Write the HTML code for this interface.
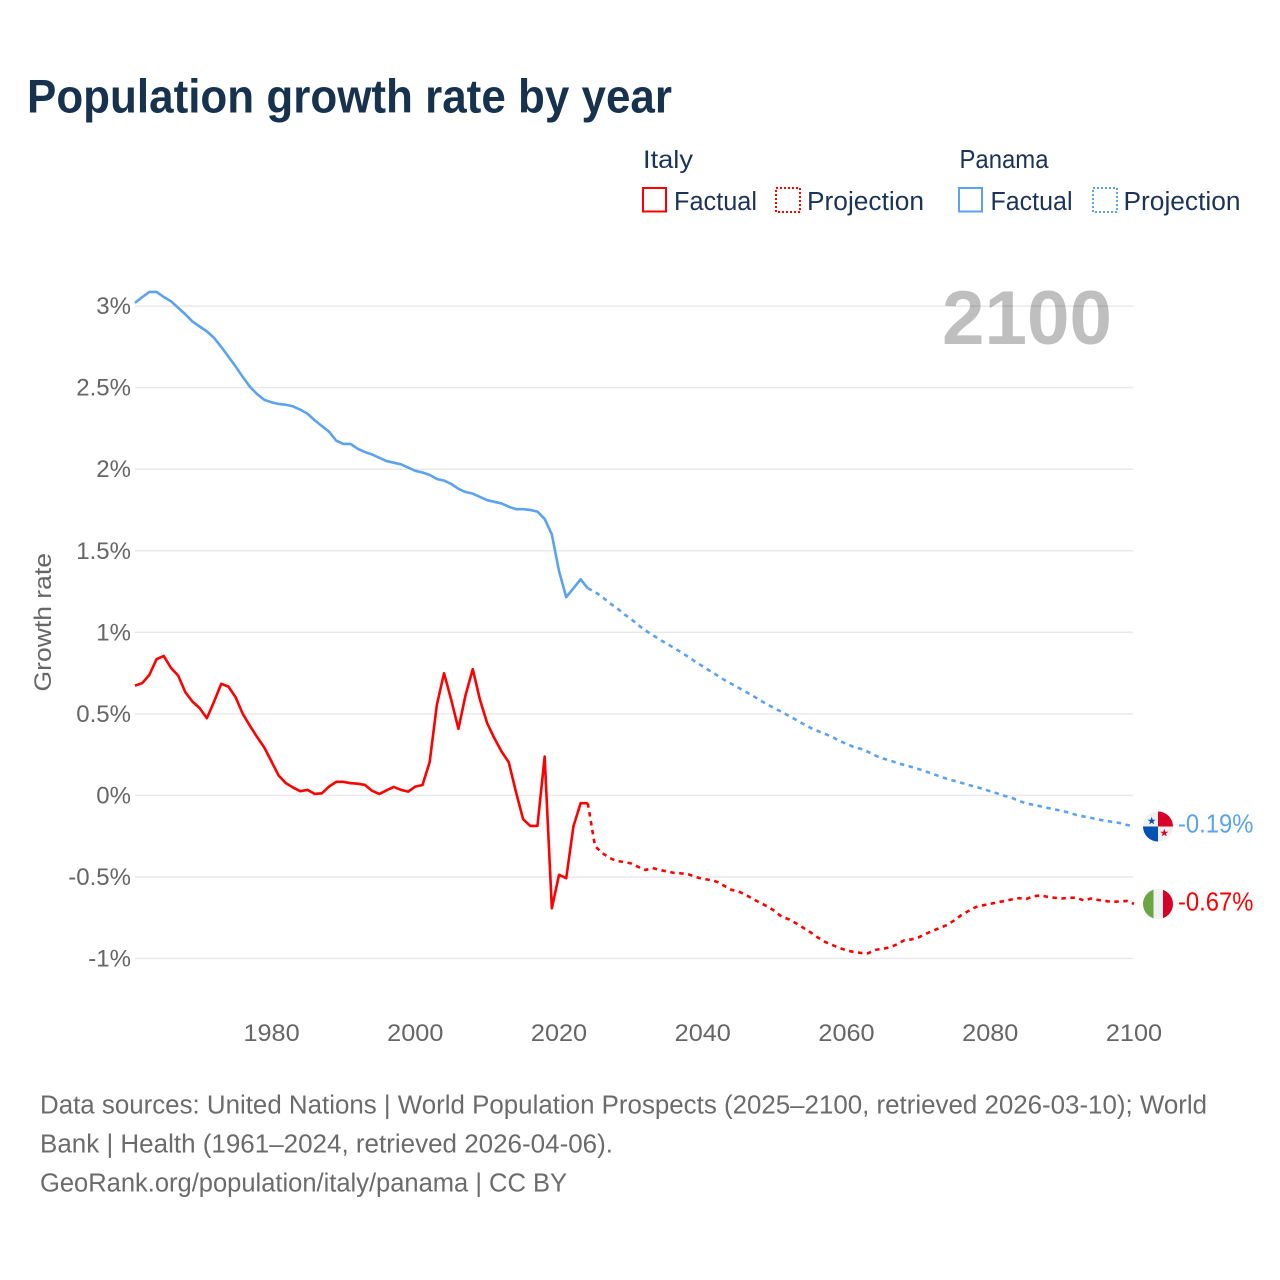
<!DOCTYPE html>
<html lang="en">
<head>
<meta charset="utf-8">
<title>Population growth rate by year</title>
<style>
html,body{margin:0;padding:0;background:#fff;width:1280px;height:1280px;overflow:hidden}
svg{display:block}
text{font-family:"Liberation Sans",sans-serif}
</style>
</head>
<body>
<svg id="chart" xmlns="http://www.w3.org/2000/svg" width="1280" height="1280" viewBox="0 0 1280 1280">
  <rect x="0" y="0" width="1280" height="1280" fill="#ffffff"/>
  <text x="27" y="112.5" font-size="47" font-weight="700" fill="#17324f" textLength="645" lengthAdjust="spacingAndGlyphs">Population growth rate by year</text>

  <g>
    <text x="643" y="168" font-size="25" fill="#1a3358" textLength="50" lengthAdjust="spacingAndGlyphs">Italy</text>
    <rect x="643" y="188" width="23" height="23.5" fill="none" stroke="#ff0000" stroke-width="2"/>
    <text x="674" y="210" font-size="25.5" fill="#1a3358" textLength="83" lengthAdjust="spacingAndGlyphs">Factual</text>
    <rect x="776" y="188" width="24" height="24" fill="none" stroke="#ff0000" stroke-width="2" stroke-dasharray="2 2"/>
    <text x="807" y="210" font-size="25.5" fill="#1a3358" textLength="117" lengthAdjust="spacingAndGlyphs">Projection</text>

    <text x="959.5" y="168" font-size="26" fill="#1a3358" textLength="89" lengthAdjust="spacingAndGlyphs">Panama</text>
    <rect x="959" y="188" width="23" height="23.5" fill="none" stroke="#5ba3ee" stroke-width="2"/>
    <text x="990.5" y="210" font-size="25.5" fill="#1a3358" textLength="82" lengthAdjust="spacingAndGlyphs">Factual</text>
    <rect x="1093" y="188" width="24" height="24" fill="none" stroke="#5ba3ee" stroke-width="2" stroke-dasharray="2 2"/>
    <text x="1123.5" y="210" font-size="25.5" fill="#1a3358" textLength="117" lengthAdjust="spacingAndGlyphs">Projection</text>
  </g>

  <text x="942" y="344" font-size="76" font-weight="700" fill="#bfbfbf" textLength="170" lengthAdjust="spacingAndGlyphs">2100</text>

  <g id="grid"></g>
  <g id="yaxis"></g>
  <g id="xaxis"></g>
  <text transform="translate(51 691.5) rotate(-90)" font-size="24.5" fill="#666666" textLength="138.5" lengthAdjust="spacingAndGlyphs">Growth rate</text>

  <g id="series"></g>

  <defs>
    <clipPath id="clip-pa"><circle cx="1158" cy="826.5" r="15"/></clipPath>
    <clipPath id="clip-it"><circle cx="1158" cy="904" r="15"/></clipPath>
  </defs>
  <g clip-path="url(#clip-pa)">
    <rect x="1143" y="811" width="30" height="31" fill="#f0f0f0"/>
    <rect x="1158" y="811" width="15" height="15.5" fill="#d80027"/>
    <rect x="1143" y="826.5" width="15" height="15.5" fill="#0052b4"/>
    <polygon points="1151.7,816.8 1152.7,819.7 1155.7,819.7 1153.3,821.5 1154.2,824.4 1151.7,822.6 1149.2,824.4 1150.1,821.5 1147.7,819.7 1150.7,819.7" fill="#0052b4"/>
    <polygon points="1164.3,828.8 1165.3,831.7 1168.3,831.7 1165.9,833.5 1166.8,836.4 1164.3,834.6 1161.8,836.4 1162.7,833.5 1160.3,831.7 1163.3,831.7" fill="#d80027"/>
  </g>
  <g clip-path="url(#clip-it)">
    <rect x="1143" y="889" width="30" height="30" fill="#f0f0f0"/>
    <rect x="1143" y="889" width="10.5" height="30" fill="#6da544"/>
    <rect x="1163" y="889" width="10" height="30" fill="#d80027"/>
  </g>
  <text x="1178" y="832.5" font-size="25.5" fill="#5ba3ee" textLength="75.5" lengthAdjust="spacingAndGlyphs">-0.19%</text>
  <text x="1178" y="910.5" font-size="25.5" fill="#ff0000" textLength="75.5" lengthAdjust="spacingAndGlyphs">-0.67%</text>

  <g>
    <text x="40" y="1113.5" font-size="25.5" fill="#6b6b6b" textLength="1167" lengthAdjust="spacingAndGlyphs">Data sources: United Nations | World Population Prospects (2025–2100, retrieved 2026-03-10); World</text>
    <text x="40" y="1152.5" font-size="25.5" fill="#6b6b6b" textLength="573" lengthAdjust="spacingAndGlyphs">Bank | Health (1961–2024, retrieved 2026-04-06).</text>
    <text x="40" y="1191.5" font-size="25.5" fill="#6b6b6b" textLength="527" lengthAdjust="spacingAndGlyphs">GeoRank.org/population/italy/panama | CC BY</text>
  </g>
</svg>

<script>
const factualStartYear = 1961;
const projectionStartYear = 2025;
const yTickValues = [3, 2.5, 2, 1.5, 1, 0.5, 0, -0.5, -1];
const yTickLabels = ['3%', '2.5%', '2%', '1.5%', '1%', '0.5%', '0%', '-0.5%', '-1%'];
const xTickValues = [1980, 2000, 2020, 2040, 2060, 2080, 2100];
const xTickLabels = ['1980', '2000', '2020', '2040', '2060', '2080', '2100'];

const italyFactual = [0.673, 0.688, 0.739, 0.835, 0.855, 0.782, 0.735, 0.633, 0.575, 0.535,
  0.473, 0.575, 0.684, 0.667, 0.602, 0.5, 0.426, 0.357, 0.293, 0.207,
  0.121, 0.075, 0.048, 0.026, 0.034, 0.009, 0.013, 0.054, 0.083, 0.083,
  0.075, 0.072, 0.064, 0.028, 0.009, 0.031, 0.052, 0.034, 0.023, 0.054,
  0.064, 0.204, 0.555, 0.749, 0.586, 0.408, 0.616, 0.774, 0.586, 0.443,
  0.351, 0.269, 0.204, 0.023, -0.146, -0.187, -0.187, 0.238, -0.692, -0.487,
  -0.508, -0.191, -0.048, -0.048];

const italyProjection = [-0.31, -0.353, -0.383, -0.402, -0.408, -0.417, -0.438, -0.457, -0.445, -0.457,
  -0.466, -0.475, -0.478, -0.484, -0.5, -0.512, -0.518, -0.53, -0.555, -0.579,
  -0.589, -0.61, -0.635, -0.659, -0.681, -0.708, -0.745, -0.76, -0.785, -0.812,
  -0.84, -0.871, -0.898, -0.917, -0.935, -0.95, -0.96, -0.966, -0.968, -0.947,
  -0.941, -0.932, -0.914, -0.889, -0.883, -0.871, -0.849, -0.831, -0.812, -0.794,
  -0.766, -0.733, -0.708, -0.684, -0.674, -0.665, -0.656, -0.647, -0.638, -0.63,
  -0.635, -0.619, -0.613, -0.622, -0.628, -0.632, -0.628, -0.627, -0.644, -0.632,
  -0.641, -0.647, -0.653, -0.65, -0.647, -0.665];

const panamaFactual = [3.02, 3.055, 3.087, 3.087, 3.056, 3.03, 2.99, 2.95, 2.905, 2.875,
  2.845, 2.805, 2.75, 2.69, 2.63, 2.565, 2.505, 2.46, 2.425, 2.41,
  2.4, 2.395, 2.385, 2.365, 2.34, 2.3, 2.265, 2.23, 2.175, 2.155,
  2.155, 2.125, 2.105, 2.09, 2.07, 2.05, 2.04, 2.03, 2.01, 1.99,
  1.98, 1.965, 1.94, 1.93, 1.91, 1.88, 1.86, 1.85, 1.83, 1.81,
  1.8, 1.79, 1.77, 1.755, 1.755, 1.75, 1.74, 1.695, 1.6, 1.375,
  1.215, 1.27, 1.325, 1.27];

const panamaProjection = [1.248, 1.217, 1.18, 1.15, 1.113, 1.082, 1.045, 1.012, 0.984, 0.956,
  0.929, 0.904, 0.877, 0.849, 0.819, 0.791, 0.763, 0.736, 0.708, 0.684,
  0.659, 0.635, 0.61, 0.582, 0.558, 0.533, 0.512, 0.487, 0.463, 0.438,
  0.414, 0.395, 0.377, 0.359, 0.334, 0.316, 0.297, 0.285, 0.267, 0.245,
  0.227, 0.215, 0.199, 0.187, 0.175, 0.162, 0.147, 0.132, 0.116, 0.101,
  0.089, 0.077, 0.064, 0.052, 0.04, 0.025, 0.012, -0.003, -0.015, -0.034,
  -0.049, -0.058, -0.067, -0.077, -0.086, -0.095, -0.107, -0.12, -0.129, -0.138,
  -0.147, -0.156, -0.162, -0.169, -0.181, -0.19];

const SVG_NS = 'http://www.w3.org/2000/svg';
function xScale(year) { return 135 + (year - 1961) * (1134 - 135) / (2100 - 1961); }
function yScale(v) { return 795.4 - v * 163.1; }
function mk(tag) { return document.createElementNS(SVG_NS, tag); }
function seriesPath(values, startYear, prefix) {
  let d = prefix;
  values.forEach(function (v, i) {
    d += (d ? 'L' : 'M') + xScale(startYear + i).toFixed(2) + ' ' + yScale(v).toFixed(2);
  });
  return d;
}

const gridG = document.getElementById('grid');
const yG = document.getElementById('yaxis');
const xG = document.getElementById('xaxis');
const seriesG = document.getElementById('series');

yTickValues.forEach(function (v, i) {
  const line = mk('line');
  line.setAttribute('x1', 135);
  line.setAttribute('x2', 1133);
  line.setAttribute('y1', yScale(v));
  line.setAttribute('y2', yScale(v));
  line.setAttribute('stroke', 'rgba(0,0,0,0.085)');
  line.setAttribute('stroke-width', '1.5');
  
  
  gridG.appendChild(line);

  const t = mk('text');
  t.textContent = yTickLabels[i];
  t.setAttribute('x', 131);
  t.setAttribute('y', yScale(v) + 8);
  t.setAttribute('text-anchor', 'end');
  t.setAttribute('font-size', '24.5');
  t.setAttribute('fill', '#666666');
  
  
  yG.appendChild(t);
  t.setAttribute('textLength', (t.getComputedTextLength() * 0.98).toFixed(1));
  t.setAttribute('lengthAdjust', 'spacingAndGlyphs');
});

xTickValues.forEach(function (v, i) {
  const t = mk('text');
  t.textContent = xTickLabels[i];
  t.setAttribute('x', xScale(v));
  t.setAttribute('y', 1041);
  t.setAttribute('text-anchor', 'middle');
  t.setAttribute('font-size', '24.5');
  t.setAttribute('fill', '#666666');
  
  
  xG.appendChild(t);
  t.setAttribute('textLength', (t.getComputedTextLength() * 1.03).toFixed(1));
  t.setAttribute('lengthAdjust', 'spacingAndGlyphs');
});

function addBase(el, color) {
  el.setAttribute('fill', 'none');
  el.setAttribute('stroke', color);
  el.setAttribute('stroke-width', '2.6');
  el.setAttribute('stroke-linejoin', 'round');
}

const italyFactualLine = mk('path');
addBase(italyFactualLine, '#ff0000');
italyFactualLine.setAttribute('d', seriesPath(italyFactual, factualStartYear, ''));


seriesG.appendChild(italyFactualLine);

const italyProjectionLine = mk('path');
addBase(italyProjectionLine, '#ff0000');
italyProjectionLine.setAttribute('stroke-dasharray', '4.5 4.5');
italyProjectionLine.setAttribute('d', seriesPath(italyProjection, projectionStartYear, 'M' + xScale(2024).toFixed(2) + ' ' + yScale(italyFactual[italyFactual.length - 1]).toFixed(2)));


seriesG.appendChild(italyProjectionLine);

const panamaFactualLine = mk('path');
addBase(panamaFactualLine, '#5ba3ee');
panamaFactualLine.setAttribute('d', seriesPath(panamaFactual, factualStartYear, ''));


seriesG.appendChild(panamaFactualLine);

const panamaProjectionLine = mk('path');
addBase(panamaProjectionLine, '#5ba3ee');
panamaProjectionLine.setAttribute('stroke-dasharray', '4.5 4.5');
panamaProjectionLine.setAttribute('d', seriesPath(panamaProjection, projectionStartYear, 'M' + xScale(2024).toFixed(2) + ' ' + yScale(panamaFactual[panamaFactual.length - 1]).toFixed(2)));


seriesG.appendChild(panamaProjectionLine);
</script>
</body>
</html>
